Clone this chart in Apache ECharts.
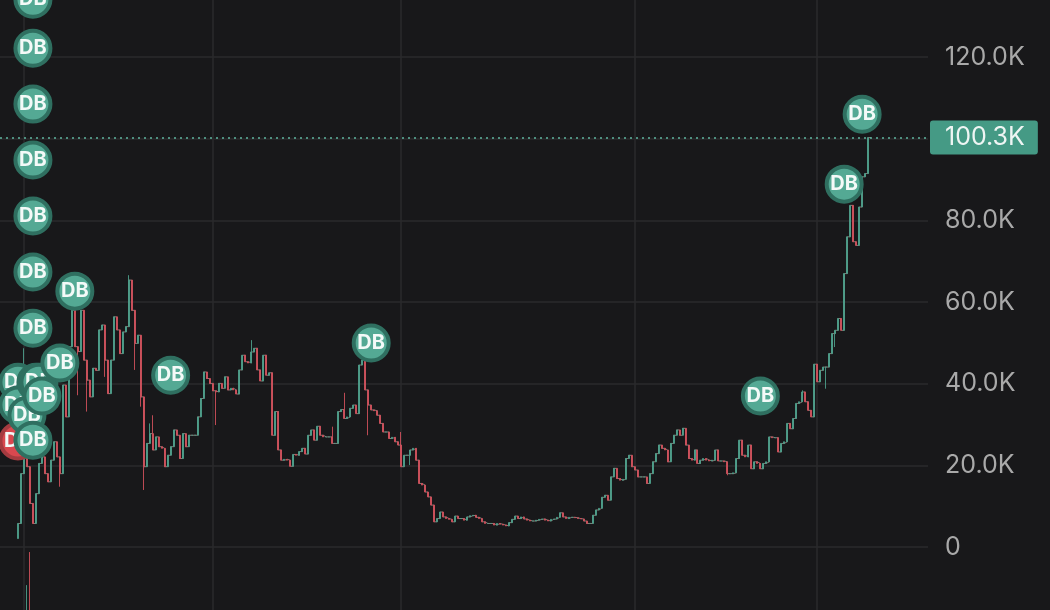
<!DOCTYPE html>
<html>
<head>
<meta charset="utf-8">
<style>
  html, body { margin: 0; padding: 0; background: #18181a; }
  #chart { width: 1050px; height: 610px; }
</style>
<script src="https://cdn.jsdelivr.net/npm/echarts@6/dist/echarts.min.js"></script>
</head>
<body>
<div id="chart"></div>
<script>
// all prices in thousands
const categoryCount = 311
const firstIndex = 6
const firstOpen = 2.1
const closes = [
  5.8,18.0,24.6,19.7,10.7,5.8,13.1,20.5,22.1,18.0,
  16.0,21.3,25.8,22.1,18.0,39.7,31.9,49.1,58.0,49.1,
  47.9,58.0,45.8,40.9,36.8,43.8,43.3,53.2,54.4,45.8,
  37.6,45.8,56.4,53.2,47.4,52.7,54.0,65.4,58.0,49.9,
  51.9,36.8,19.7,25.4,27.8,23.8,27.0,24.6,24.2,19.7,
  22.5,24.6,28.7,27.4,21.7,27.8,24.6,27.4,27.4,27.4,
  31.9,36.4,42.9,41.3,40.1,38.3,38.0,40.1,38.9,41.7,
  38.5,38.9,38.5,37.5,43.4,47.0,45.4,45.1,47.8,48.7,
  43.4,40.7,47.0,42.1,42.7,27.4,33.2,23.8,21.3,21.5,
  21.3,19.8,22.7,22.5,23.4,24.2,22.8,27.4,28.7,26.2,
  29.6,27.4,27.0,27.0,27.0,25.4,25.4,33.2,33.7,31.5,
  31.9,34.0,34.8,32.7,44.6,45.8,38.5,34.8,33.6,33.4,
  32.3,30.3,28.2,28.2,26.6,26.9,25.8,25.0,19.7,22.5,
  22.5,23.8,24.2,21.3,15.6,15.2,13.5,12.3,10.3,6.2,
  7.0,8.6,7.4,7.0,6.8,6.2,7.6,7.0,7.0,6.6,
  7.4,7.7,7.8,7.3,7.0,6.2,5.8,5.8,5.8,5.4,
  5.8,5.6,5.4,5.2,6.0,6.8,7.6,7.0,7.4,6.9,
  6.6,6.4,6.4,6.6,6.8,6.9,6.6,6.4,6.8,6.9,
  7.3,8.4,7.4,7.0,7.3,7.3,7.2,7.0,6.9,6.4,
  5.8,5.8,7.8,9.1,9.5,12.2,12.7,11.5,17.2,19.3,
  16.8,16.4,16.6,21.7,22.5,19.7,18.9,17.2,17.2,17.2,
  15.6,18.0,20.9,22.9,25.0,24.2,23.8,20.9,25.4,27.4,
  28.7,27.4,29.1,25.0,21.7,21.3,23.8,20.5,21.3,21.7,
  21.3,21.1,21.3,23.8,21.1,21.1,20.9,18.0,18.0,18.2,
  21.7,26.2,22.5,22.1,25.0,19.2,20.9,20.5,19.2,20.5,
  20.9,27.0,26.8,26.8,23.3,25.4,25.8,30.3,29.0,31.5,
  35.2,35.6,38.0,35.6,33.5,31.9,44.8,40.5,43.3,44.1,
  44.1,47.4,52.3,53.1,56.0,53.1,67.0,76.0,83.7,74.8,
  73.9,83.3,90.7,91.5,100.3
]
// wicks that stick out of the bodies
const wickIndex = [8,12,20,22,26,29,35,43,45,47,48,50,51,72,84,111,115,123,134,137,243,268,276,279,287]
const wickHigh = [48.7,null,null,null,null,null,null,66.6,null,null,null,30.3,32.3,null,50.7,29.5,37.8,null,28.2,null,null,38.4,null,null,null]
const wickLow = [null,8.3,14.8,null,37.2,33.2,41.7,null,43.4,34.4,14.0,null,null,29.9,null,null,null,27.4,null,20.1,17.6,null,38.8,49.0,76.4]
// the two spikes under zero at the far left
const spikeIndex = [9,10]
const spikeOpen = [-16,-1.2]
const spikeClose = [-9.3,-16]
const splitIndex = [8,71,134,212,273]
const lastPrice = 100.3
// draw order matters, later markers sit on top
const dbIndex = [11,11,11,11,11,11,11,25,57,124,254,282,288,6,6,6,12,13,9,20,14,11]
const dbPrice = [134.2,122.2,108.5,94.8,81.1,67.4,53.6,62.7,42.1,50.0,37.0,88.9,106.0,26.0,40.4,34.8,40.4,40.4,32.3,45.1,37.0,26.2]
const dbRed = [13]

const categories = Array.from({ length: categoryCount }, (_, i) => String(i))
const candles = categories.map(() => '-')
const closeLine = categories.map(() => '-')
closes.forEach((close, k) => {
  const i = firstIndex + k
  const open = k === 0 ? firstOpen : closes[k - 1]
  const w = wickIndex.indexOf(i)
  const hi = w >= 0 && wickHigh[w] !== null ? wickHigh[w] : Math.max(open, close)
  const lo = w >= 0 && wickLow[w] !== null ? wickLow[w] : Math.min(open, close)
  candles[i] = [open, close, lo, hi]
  closeLine[i] = close
})
const spikes = categories.map(() => '-')
spikeIndex.forEach((i, k) => {
  spikes[i] = [spikeOpen[k], spikeClose[k], Math.min(spikeOpen[k], spikeClose[k]), Math.max(spikeOpen[k], spikeClose[k])]
})

const GREEN = '#4d9e8a'
const RED = '#cf505b'
const candleStyle = { color: GREEN, color0: RED, borderColor: GREEN, borderColor0: RED, borderWidth: 0.9 }

// one series per marker, otherwise every label floats above every circle
const dbSeries = dbIndex.map((i, k) => {
  const red = dbRed.includes(k)
  return {
    type: 'scatter',
    symbol: 'circle',
    symbolSize: 35,
    data: [[String(i), dbPrice[k]]],
    itemStyle: { opacity: 1, color: red ? '#d9484f' : '#54a994', borderColor: red ? '#a53b40' : '#2f6f60', borderWidth: 4 },
    label: {
      show: true,
      position: 'inside',
      formatter: 'DB',
      color: '#f4faf8',
      fontFamily: 'Inter',
      fontWeight: 'bold',
      fontSize: 20
    },
    z: 5 + k
  }
})

const chart = echarts.init(document.getElementById('chart'), null, { renderer: 'canvas' })
chart.setOption({
  animation: false,
  backgroundColor: '#18181a',
  // plot runs past the window top and bottom so ticks stay on round numbers
  grid: { left: 0, right: 122, top: -24.5, height: 653.3, outerBoundsMode: 'none' },
  xAxis: {
    type: 'category',
    data: categories,
    boundaryGap: false,
    axisLine: { show: false },
    axisTick: { show: false },
    axisLabel: { show: false },
    splitLine: {
      show: true,
      interval: (i) => splitIndex.includes(i),
      lineStyle: { color: '#2a2a2c', width: 1.5 }
    }
  },
  yAxis: {
    type: 'value',
    position: 'right',
    min: -20,
    max: 140,
    interval: 20,
    axisLine: { show: false },
    axisTick: { show: false },
    splitLine: { lineStyle: { color: '#2a2a2c', width: 1.5 } },
    axisLabel: {
      margin: 17,
      color: '#a9a9a9',
      fontFamily: 'Inter',
      fontSize: 25,
      padding: [5, 0, 0, 0],
      formatter: (v) => (v < 0 || v > 120) ? '' : (v === 0 ? '0' : v.toFixed(1) + 'K')
    }
  },
  series: [
    // fills the gaps between candle bodies so flat stretches read as a line
    {
      type: 'line',
      data: closeLine,
      step: 'end',
      showSymbol: false,
      lineStyle: { color: '#8a7c78', width: 1 },
      z: 1
    },
    {
      type: 'candlestick',
      data: candles,
      barWidth: 1.5,
      itemStyle: candleStyle,
      z: 2,
      markLine: {
        silent: true,
        symbol: 'none',
        data: [{ yAxis: lastPrice }],
        lineStyle: { color: '#5fb5a0', type: [2, 4], width: 1.5 },
        label: {
          position: 'end',
          distance: 2,
          formatter: lastPrice + 'K',
          color: '#eef5f3',
          fontFamily: 'Inter',
          fontSize: 25,
          backgroundColor: '#459a85',
          borderRadius: 3,
          padding: [6, 13, 3, 15]
        }
      }
    },
    { type: 'candlestick', data: spikes, barWidth: 0.5, itemStyle: candleStyle, z: 2 }
  ].concat(dbSeries)
})
</script>
</body>
</html>
